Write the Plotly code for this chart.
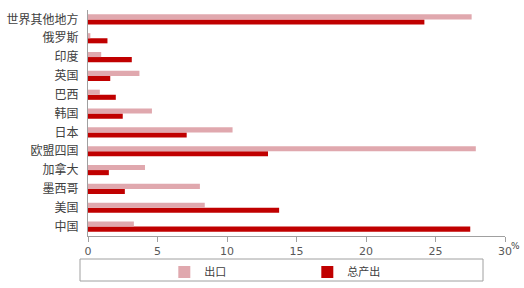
import plotly.graph_objects as go

categories = ["中国", "美国", "墨西哥", "加拿大", "欧盟四国", "日本", "韩国", "巴西", "英国", "印度", "俄罗斯", "世界其他地方"]
export_vals = [3.3, 8.4, 8.05, 4.1, 27.9, 10.4, 4.6, 0.85, 3.7, 0.95, 0.17, 27.6]
output_vals = [27.5, 13.75, 2.65, 1.5, 12.95, 7.1, 2.5, 2.0, 1.6, 3.15, 1.4, 24.2]
x_ticks = [0, 5, 10, 15, 20, 25, 30]

FONT = "Noto Sans CJK SC"

fig = go.Figure()
fig.add_trace(go.Bar(y=categories, x=output_vals, name="总产出", orientation="h",
                     marker=dict(color="#C00000", line=dict(width=0)), legendrank=2))
fig.add_trace(go.Bar(y=categories, x=export_vals, name="出口", orientation="h",
                     marker=dict(color="#E0A8AE", line=dict(width=0)), legendrank=1))

fig.update_layout(
    width=524, height=288,
    margin=dict(l=88, r=19, t=10, b=52, autoexpand=False),
    paper_bgcolor="white", plot_bgcolor="white",
    barmode="group", bargap=0.46, bargroupgap=0,
    font=dict(family=FONT, size=11, color="#404040"),
    showlegend=True,
    legend=dict(orientation="h", x=0.183, y=-0.095, xanchor="left", yanchor="top",
                font=dict(family=FONT, size=11, color="#404040"),
                entrywidth=98, entrywidthmode="pixels", itemwidth=30,
                bgcolor="rgba(0,0,0,0)", borderwidth=0),
    xaxis=dict(range=[0, 30], tickvals=x_ticks, ticktext=[str(v) for v in x_ticks],
               showgrid=False, zeroline=False, showline=True, linecolor="#A0A0A0", linewidth=1,
               ticks="outside", ticklen=5, tickcolor="#A0A0A0",
               tickfont=dict(family="DejaVu Sans", size=11, color="#595959")),
    yaxis=dict(showgrid=False, zeroline=False, showline=True, linecolor="#A0A0A0", linewidth=1,
               ticks="", ticklabelstandoff=6,
               tickfont=dict(family=FONT, size=12, color="#404040")),
    shapes=[dict(type="rect", xref="paper", yref="paper",
                 x0=(80 - 88) / 417, x1=(483 - 88) / 417,
                 y0=(236 - 281) / 226, y1=(236 - 259) / 226,
                 line=dict(color="#A0A0A0", width=1), fillcolor="rgba(0,0,0,0)")],
    annotations=[dict(text="%", xref="paper", yref="paper", x=(509 - 88) / 417, y=(236 - 246) / 226,
                      xanchor="left", yanchor="middle", showarrow=False,
                      font=dict(family="DejaVu Sans", size=9, color="#404040"))],
)

fig.write_html("out.html")
